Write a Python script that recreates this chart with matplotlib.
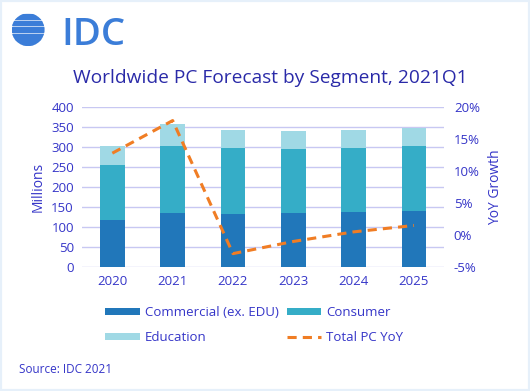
import matplotlib
matplotlib.use('Agg')
import matplotlib.pyplot as plt
from matplotlib.patches import Rectangle, Circle
from matplotlib.ticker import FuncFormatter
import numpy as np

years = ['2020', '2021', '2022', '2023', '2024', '2025']
commercial = [118, 136, 133, 135, 138, 140]
consumer = [138, 166, 165, 161, 160, 163]
education = [46, 55, 46, 45, 45, 45]
yoy = [12.8, 17.9, -2.9, -1.0, 0.5, 1.5]

TXT = '#3535C8'
plt.rcParams['font.family'] = ['Open Sans', 'DejaVu Sans']

fig = plt.figure(figsize=(5.3, 3.91), dpi=100)
fig.patch.set_facecolor('white')
fig.patches.append(Rectangle((0, 0), 1, 1, transform=fig.transFigure, fill=False,
                             edgecolor='#E6F0FA', linewidth=3))

ax = fig.add_axes([0.155, 0.317, 0.683, 0.409])
x = np.arange(len(years))
w = 0.41
b1 = ax.bar(x, commercial, w, color='#2177BA', label='Commercial (ex. EDU)', zorder=3)
b2 = ax.bar(x, consumer, w, bottom=commercial, color='#35ADC7', label='Consumer', zorder=3)
bottom2 = [a + b for a, b in zip(commercial, consumer)]
b3 = ax.bar(x, education, w, bottom=bottom2, color='#A0D9E5', label='Education', zorder=3)

ax.set_ylim(0, 400)
ax.set_yticks(range(0, 401, 50))
ax.set_xlim(-0.5, 5.5)
ax.set_xticks(x)
ax.set_xticklabels(years)
ax.grid(axis='y', color='#C8C8F2', linewidth=1, zorder=0)
for s in ax.spines.values():
    s.set_visible(False)
ax.tick_params(length=0, colors=TXT, labelsize=9.5, pad=6)
ax.set_ylabel('Millions', color=TXT, fontsize=10, labelpad=4)

ax2 = ax.twinx()
ln, = ax2.plot(x, yoy, color='#F07D24', linewidth=2.2, linestyle=(0, (3, 2)),
               label='Total PC YoY', zorder=4)
ax2.set_ylim(-5, 20)
ax2.set_yticks(range(-5, 21, 5))
ax2.yaxis.set_major_formatter(FuncFormatter(lambda v, p: f'{int(v)}%'))
for s in ax2.spines.values():
    s.set_visible(False)
ax2.tick_params(length=0, colors=TXT, labelsize=9.5, pad=7)
ax2.set_ylabel('YoY Growth', color=TXT, fontsize=10, labelpad=6)

fig.text(0.51, 0.80, 'Worldwide PC Forecast by Segment, 2021Q1', ha='center', va='center',
         color='#2A2AA8', fontsize=13.8)

# matplotlib fills legend columns first, so order gives the row layout of the original
leg = fig.legend([b1, b3, b2, ln], ['Commercial (ex. EDU)', 'Education', 'Consumer', 'Total PC YoY'],
                 loc='center', bbox_to_anchor=(0.48, 0.168), ncol=2, frameon=False,
                 fontsize=9.5, handlelength=2.6, handleheight=0.4, columnspacing=0.6,
                 labelspacing=0.9, handletextpad=0.4)
for t in leg.get_texts():
    t.set_color(TXT)

fig.text(0.036, 0.054, 'Source: IDC 2021', color=TXT, fontsize=8.5, va='center')

# logo
lax = fig.add_axes([0.022, 0.882, 0.062, 0.084])
lax.set_xlim(-1, 1)
lax.set_ylim(-1, 1)
lax.axis('off')
clip = Circle((0, 0), 1, transform=lax.transData)
for yb in [0.66, 0.26, -0.14, -0.54, -0.94]:
    r = lax.add_patch(Rectangle((-1, yb), 2, 0.3, color='#3B7DD8'))
    r.set_clip_path(clip)
fig.text(0.115, 0.885, 'IDC', color='#3B7DD8', fontsize=27.5, va='baseline', ha='left',
         fontweight='semibold')

fig.savefig('out.png', dpi=100)
